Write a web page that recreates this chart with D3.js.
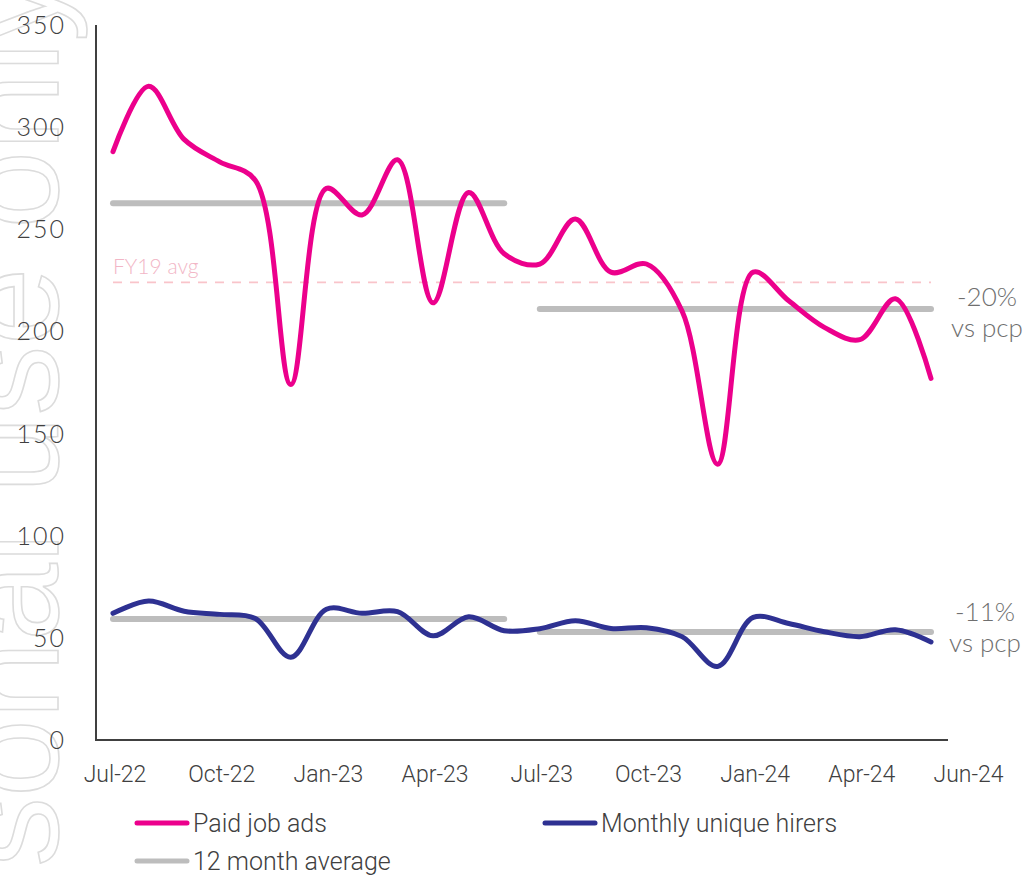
<!DOCTYPE html>
<html>
<head>
<meta charset="utf-8">
<script src="https://cdn.jsdelivr.net/npm/d3@7"></script>
<style>
  html, body { margin: 0; padding: 0; background: #fff; }
  svg { display: block; }
</style>
</head>
<body>
<svg id="chart" width="1027" height="876"></svg>
<script>
// ---- Data ----
const months = ["Jul-22","Aug-22","Sep-22","Oct-22","Nov-22","Dec-22","Jan-23","Feb-23","Mar-23","Apr-23","May-23","Jun-23",
                "Jul-23","Aug-23","Sep-23","Oct-23","Nov-23","Dec-23","Jan-24","Feb-24","Mar-24","Apr-24","May-24","Jun-24"];
const paidJobAds = [288, 320, 294, 283, 274, 174, 270, 257, 284, 214, 268, 238,
                    233, 255, 229, 233, 210, 135, 229, 215, 202, 196, 216, 177];
const monthlyUniqueHirers = [62, 68, 63, 61.5, 59.5, 40.5, 64, 62, 62.8, 51, 60.3, 53.5,
                             54.5, 58.4, 54.6, 55, 50.6, 36, 60, 57, 53, 50.6, 54, 48];
const avgPeriods = [[0, 11], [12, 23]];
const avgPaidJobAds = [262.8, 211];
const avgHirers = [59.2, 52.9];
const fy19Avg = 224;
const yTicks = [0, 50, 100, 150, 200, 250, 300, 350];
const xTickIndex = [0, 3, 6, 9, 12, 15, 18, 21, 24];
const xTickLabels = ["Jul-22","Oct-22","Jan-23","Apr-23","Jul-23","Oct-23","Jan-24","Apr-24","Jun-24"];
const annAds = ["-20%", "vs pcp"];
const annHirers = ["-11%", "vs pcp"];
const legendItems = [
  {label: "Paid job ads", color: "#EC008C"},
  {label: "Monthly unique hirers", color: "#2E3192"},
  {label: "12 month average", color: "#BDBDBD"}
];

// ---- Drawing ----
const svg = d3.select("#chart");
const PINK = "#EC008C", NAVY = "#2E3192", GREY = "#BDBDBD";

// watermark
svg.append("text")
  .attr("transform", "translate(58,-28) rotate(-90)")
  .attr("text-anchor", "end")
  .attr("font-family", "Liberation Sans, Arial, sans-serif")
  .attr("font-size", 140)
  .attr("fill", "none")
  .attr("stroke", "#dcdcdc")
  .attr("stroke-width", 1.6)
  .text("For personal use only");

const x = d3.scaleLinear().domain([0, 23]).range([113, 931]);
const y = d3.scaleLinear().domain([0, 350]).range([740, 25]);

// axes lines
svg.append("line").attr("x1", 96).attr("x2", 96).attr("y1", y(350)).attr("y2", 741)
  .attr("stroke", "#404040").attr("stroke-width", 2);
svg.append("line").attr("x1", 95).attr("x2", 948).attr("y1", 740).attr("y2", 740)
  .attr("stroke", "#404040").attr("stroke-width", 2);

// y tick labels
svg.append("g").selectAll("text").data(yTicks).join("text")
  .attr("x", 66).attr("y", d => y(d)).attr("dy", "0.36em")
  .attr("text-anchor", "end")
  .attr("font-family", "Lato, sans-serif").attr("font-weight", 300)
  .attr("font-size", 25).attr("letter-spacing", 2)
  .attr("fill", "#404040")
  .text(d => d);

// x tick labels
svg.append("g").selectAll("text").data(xTickIndex).join("text")
  .attr("x", d => x(d) + 2).attr("y", 782)
  .attr("text-anchor", "middle")
  .attr("font-family", "Roboto, sans-serif").attr("font-weight", 300)
  .attr("font-size", 23)
  .attr("fill", "#404040")
  .text((d, i) => xTickLabels[i]);

// FY19 avg dashed line
svg.append("line")
  .attr("x1", x(0)).attr("x2", x(23)).attr("y1", y(fy19Avg)).attr("y2", y(fy19Avg))
  .attr("stroke", "#F9C4CA").attr("stroke-width", 1.6).attr("stroke-dasharray", "9,8");
svg.append("text")
  .attr("x", x(0)).attr("y", y(fy19Avg) - 8)
  .attr("font-family", "Lato, sans-serif").attr("font-weight", 300)
  .attr("font-size", 21).attr("fill", "#F2B6C6")
  .text("FY19 avg");

// 12-month averages
const avgG = svg.append("g");
[avgPaidJobAds, avgHirers].forEach(vals => {
  avgG.selectAll(null).data(avgPeriods).join("line")
    .attr("x1", d => x(d[0])).attr("x2", d => x(d[1]))
    .attr("y1", (d, i) => y(vals[i])).attr("y2", (d, i) => y(vals[i]))
    .attr("stroke", GREY).attr("stroke-width", 6).attr("stroke-linecap", "round");
});

// series lines
const line = d3.line().x((d, i) => x(i)).y(d => y(d)).curve(d3.curveCatmullRom.alpha(0.5));
svg.append("path").datum(monthlyUniqueHirers).attr("d", line)
  .attr("fill", "none").attr("stroke", NAVY).attr("stroke-width", 5).attr("stroke-linecap", "round");
svg.append("path").datum(paidJobAds).attr("d", line)
  .attr("fill", "none").attr("stroke", PINK).attr("stroke-width", 5).attr("stroke-linecap", "round");

// annotations
function annotate(lines, cx, yTop) {
  svg.append("g").selectAll("text").data(lines).join("text")
    .attr("x", cx).attr("y", (d, i) => yTop + i * 31)
    .attr("text-anchor", "middle")
    .attr("font-family", "Lato, sans-serif").attr("font-weight", 300)
    .attr("font-size", 26).attr("fill", "#6f6f6f")
    .text(d => d);
}
annotate(annAds, 987, 306);
annotate(annHirers, 985, 621);

// legend
const legPos = [[137, 823], [545, 823], [137, 861]];
const leg = svg.append("g");
legendItems.forEach((d, i) => {
  const [lx, ly] = legPos[i];
  leg.append("line").attr("x1", lx).attr("x2", lx + 50).attr("y1", ly).attr("y2", ly)
    .attr("stroke", d.color).attr("stroke-width", 5).attr("stroke-linecap", "round");
  leg.append("text").attr("x", lx + 56).attr("y", ly).attr("dy", "0.36em")
    .attr("font-family", "Roboto, sans-serif").attr("font-weight", 300)
    .attr("font-size", 25).attr("fill", "#404040")
    .text(d.label);
});
</script>
</body>
</html>
